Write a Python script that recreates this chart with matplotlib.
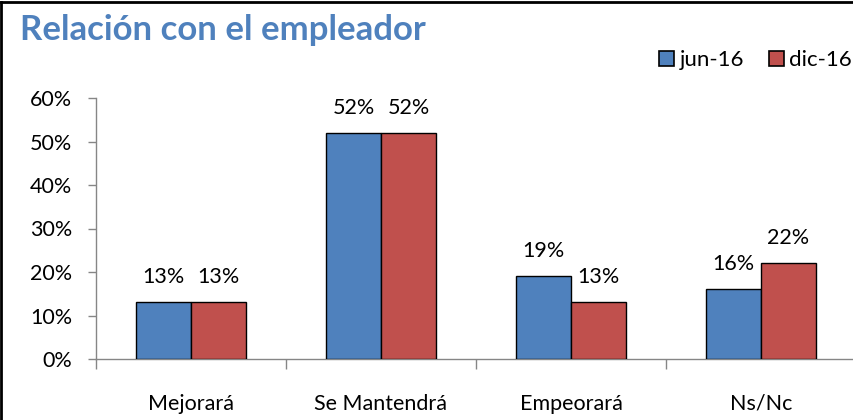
import matplotlib
matplotlib.use("Agg")
import matplotlib.pyplot as plt
from matplotlib.lines import Line2D
from matplotlib.patches import Patch
import numpy as np

categories = ["Mejorará", "Se Mantendrá", "Empeorará", "Ns/Nc"]
jun16 = [13, 52, 19, 16]
dic16 = [13, 52, 13, 22]
series_names = ["jun-16", "dic-16"]
yticks = [0, 10, 20, 30, 40, 50, 60]

plt.rcParams['font.family'] = ['Lato', 'DejaVu Sans']

W, H = 854, 420
fig = plt.figure(figsize=(W / 100, H / 100), dpi=100)
ax = fig.add_axes([96 / W, 1 - 359 / H, 760 / W, 261 / H])

blue = "#4F81BD"
red = "#C0504D"
x = np.arange(len(categories))
bw = 0.289
b1 = ax.bar(x - bw / 2, jun16, bw, color=blue, edgecolor="black", linewidth=1.0, zorder=3)
b2 = ax.bar(x + bw / 2, dic16, bw, color=red, edgecolor="black", linewidth=1.0, zorder=3)

for bars, vals in ((b1, jun16), (b2, dic16)):
    for b, v in zip(bars, vals):
        ax.annotate(f"{v}%", (b.get_x() + b.get_width() / 2, v), xytext=(0, 11),
                    textcoords="offset points", ha="center", va="bottom", fontsize=15.5)

ax.set_xlim(-0.5, len(categories) - 0.5)
ax.set_ylim(0, 60)
ax.set_yticks(yticks)
ax.set_yticklabels([f"{t}%" for t in yticks], fontsize=15.5)
ax.set_xticks(x)
ax.set_xticklabels(categories, fontsize=15.5)
ax.tick_params(axis="x", which="major", length=0, pad=25)
ax.set_xticks(np.arange(-0.5, len(categories)), minor=True)
ax.tick_params(axis="x", which="minor", length=7, color="#868686", width=1)
ax.tick_params(axis="y", length=6, color="#868686", width=1, pad=11)

for s in ("top", "right"):
    ax.spines[s].set_visible(False)
for s in ("left", "bottom"):
    ax.spines[s].set_color("#868686")
    ax.spines[s].set_linewidth(1)

fig.text(20 / W, 1 - 30 / H, "Relación con el empleador", fontsize=25, fontweight="bold",
         color=blue, ha="left", va="center")

handles = [Patch(facecolor=blue, edgecolor="black", linewidth=1.2),
           Patch(facecolor=red, edgecolor="black", linewidth=1.2)]
fig.legend(handles, series_names, loc="center right", bbox_to_anchor=(852 / W, 1 - 60 / H),
           ncol=2, frameon=False, fontsize=16, handlelength=0.68, handleheight=0.68,
           handletextpad=0.25, columnspacing=1.1, borderaxespad=0.0, borderpad=0.0)

fig.add_artist(Line2D([1.5 / W, 1.5 / W], [0, 1 - 1.5 / H], color="black", linewidth=2, transform=fig.transFigure))
fig.add_artist(Line2D([1.5 / W, 1], [1 - 1.5 / H, 1 - 1.5 / H], color="black", linewidth=2, transform=fig.transFigure))

fig.savefig("out.png", dpi=100)
